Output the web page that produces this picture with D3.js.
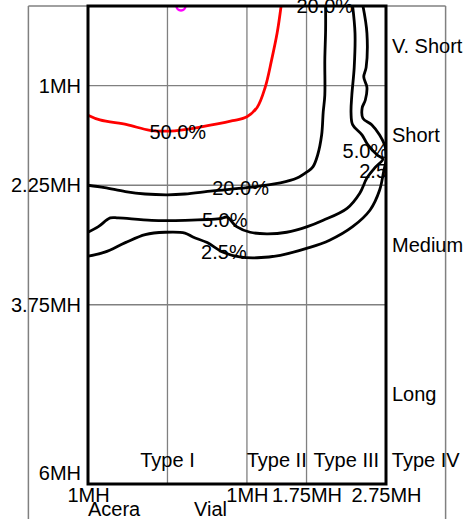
<!DOCTYPE html>
<html>
<head>
<meta charset="utf-8">
<script src="https://cdn.jsdelivr.net/npm/d3@7"></script>
<style>
  body { margin: 0; background: #fff; }
  text { font-family: "Liberation Sans", Arial, sans-serif; font-size: 20px; fill: #000; }
</style>
</head>
<body>
<div id="chart"></div>
<script>
// band breaks (MH)
const xBreaks = [-1, 1, 1.75, 2.75, 3.75];
const yBreaks = [0, 1, 2.25, 3.75, 6];
const typeLabels = ["Type I", "Type II", "Type III", "Type IV"];
const rowLabels = ["V. Short", "Short", "Medium", "Long"];
const xTicks = [-1, 1, 1.75, 2.75];
const yTicks = [1, 2.25, 3.75, 6];
const xGrid = [0, 1, 1.75];
const yGrid = [1, 2.25, 3.75];
const frameX = [-1.75, 3.5];

// contour lines, [x, y] in MH
const c50 = [[-1.00,1.37],[-0.85,1.43],[-0.51,1.49],[-0.22,1.56],[0.03,1.57],[0.41,1.52],[0.82,1.44],
  [1.00,1.39],[1.13,1.27],[1.23,1.02],[1.31,0.68],[1.38,0.34],[1.43,0]];
const c20 = [[-1.00,2.25],[-0.79,2.28],[-0.53,2.33],[-0.28,2.36],[0.00,2.37],[0.22,2.36],[0.57,2.32],
  [1.00,2.28],[1.42,2.22],[1.63,2.16],[1.76,2.08],[1.83,2.02],[1.89,1.87],[1.94,1.62],[1.96,1.33],
  [1.98,1.12],[1.98,0.68],[1.99,0.30],[1.99,0]];
const c5 = [[-1.00,2.84],[-0.87,2.77],[-0.72,2.66],[-0.62,2.66],[-0.20,2.69],[0.22,2.69],[0.66,2.67],
  [0.75,2.65],[0.87,2.77],[1.04,2.84],[1.25,2.86],[1.50,2.84],[1.76,2.77],[1.96,2.69],[2.26,2.54],
  [2.42,2.35],[2.51,2.16],[2.62,2.02],[2.71,1.92],[2.64,1.87],[2.52,1.74],[2.45,1.62],[2.33,1.49],
  [2.31,1.34],[2.32,1.12],[2.35,0.77],[2.36,0.34],[2.33,0]];
const c25 = [[-1.00,3.14],[-0.79,3.09],[-0.53,2.97],[-0.28,2.87],[-0.03,2.84],[0.22,2.85],[0.32,2.90],
  [0.50,2.97],[0.70,3.09],[0.91,3.15],[1.13,3.16],[1.42,3.13],[1.76,3.04],[2.04,2.94],[2.33,2.77],
  [2.55,2.56],[2.67,2.31],[2.72,2.08],[2.75,1.93],[2.74,1.77],[2.67,1.62],[2.57,1.49],[2.46,1.41],
  [2.45,1.28],[2.49,1.18],[2.51,1.02],[2.47,0.89],[2.50,0.77],[2.51,0.34],[2.46,0]];
const contours = [
  { pts: c50, color: "#ff0000" },
  { pts: c20, color: "#000" },
  { pts: c5, color: "#000" },
  { pts: c25, color: "#000" }
];
const contourLabels = [
  { text: "50.0%", x: 0.13, y: 1.58 },
  { text: "20.0%", x: 0.92, y: 2.28 },
  { text: "5.0%", x: 0.72, y: 2.69 },
  { text: "2.5%", x: 0.71, y: 3.09 },
  { text: "20.0%", x: 1.98, y: 0 },
  { text: "5.0%", x: 2.49, y: 1.82 },
  { text: "2.5%", x: 2.70, y: 2.07 }
];
const marker = [0.17, 0];

const width = 473, height = 519;
const svg = d3.select("#chart").append("svg")
  .attr("width", width).attr("height", height);

const x = d3.scaleLinear().domain([-1, 2.75]).range([88, 386]);
const y = d3.scaleLinear().domain([0, 6]).range([6, 484]);

const defs = svg.append("defs");
defs.append("clipPath").attr("id", "plot")
  .append("rect").attr("x", x(-1)).attr("y", y(0))
  .attr("width", x(2.75) - x(-1)).attr("height", y(6) - y(0));
defs.append("clipPath").attr("id", "lab")
  .append("rect").attr("x", x(-1)).attr("y", -50)
  .attr("width", x(2.75) - x(-1)).attr("height", y(6) + 50);

// outer frame
const grey = "#808080";
svg.append("line").attr("x1", x(frameX[0])).attr("x2", x(frameX[1]))
  .attr("y1", y(0)).attr("y2", y(0)).attr("stroke", grey).attr("stroke-width", 1.5);
frameX.forEach(v => {
  svg.append("line").attr("x1", x(v)).attr("x2", x(v))
    .attr("y1", y(0)).attr("y2", height + 5).attr("stroke", grey).attr("stroke-width", 1.5);
});

// grid
const grid = svg.append("g");
grid.selectAll(".vg").data(xGrid).join("line")
  .attr("x1", d => x(d)).attr("x2", d => x(d))
  .attr("y1", y(0)).attr("y2", y(6))
  .attr("stroke", grey).attr("stroke-width", 1.3);
grid.selectAll(".hg").data(yGrid).join("line")
  .attr("x1", x(-1)).attr("x2", x(2.75))
  .attr("y1", d => y(d)).attr("y2", d => y(d))
  .attr("stroke", grey).attr("stroke-width", 1.3);

// axes
const yAxis = svg.append("g").attr("transform", `translate(${x(-1)},0)`)
  .call(d3.axisLeft(y).tickValues(yTicks).tickFormat(d => d + "MH").tickSize(0).tickPadding(7));
yAxis.select(".domain").remove();
yAxis.selectAll("text").attr("font-size", null).attr("font-family", null)
  .filter(d => d === 6).attr("dy", "-0.23em");

const xAxis = svg.append("g").attr("transform", `translate(0,${y(6)})`)
  .call(d3.axisBottom(x).tickValues(xTicks).tickFormat(d => Math.abs(d) + "MH").tickSize(0).tickPadding(4));
xAxis.select(".domain").remove();
xAxis.selectAll("text").attr("font-size", null).attr("font-family", null);

svg.append("text").attr("x", x(-1)).attr("y", 516).text("Acera");
svg.append("text").attr("x", x(0.75)).attr("y", 516).attr("text-anchor", "end").text("Vial");

// band labels
svg.selectAll(".type").data(typeLabels).join("text")
  .attr("x", (d, i) => x((xBreaks[i] + xBreaks[i + 1]) / 2))
  .attr("y", y(6) - 17)
  .attr("text-anchor", "middle")
  .text(d => d);
svg.selectAll(".row").data(rowLabels).join("text")
  .attr("x", x(2.75) + 6)
  .attr("y", (d, i) => y((yBreaks[i] + yBreaks[i + 1]) / 2))
  .attr("dy", "0.35em")
  .text(d => d);

// contours
const line = d3.line().x(d => x(d[0])).y(d => y(d[1])).curve(d3.curveCatmullRom.alpha(0.5));
const cg = svg.append("g").attr("clip-path", "url(#plot)");
cg.selectAll("path").data(contours).join("path")
  .attr("d", d => line(d.pts))
  .attr("fill", "none")
  .attr("stroke", d => d.color)
  .attr("stroke-width", 2.8)
  .attr("stroke-linejoin", "round");
cg.append("circle").attr("cx", x(marker[0])).attr("cy", y(marker[1])).attr("r", 4.5)
  .attr("fill", "none").attr("stroke", "#ff00ff").attr("stroke-width", 2.5);

svg.append("g").attr("clip-path", "url(#lab)")
  .selectAll("text").data(contourLabels).join("text")
  .attr("x", d => x(d.x)).attr("y", d => y(d.y))
  .attr("dy", "0.35em").attr("text-anchor", "middle")
  .text(d => d.text);

// plot border
svg.append("rect").attr("x", x(-1)).attr("y", y(0))
  .attr("width", x(2.75) - x(-1)).attr("height", y(6) - y(0))
  .attr("fill", "none").attr("stroke", "#000").attr("stroke-width", 3);
</script>
</body>
</html>
